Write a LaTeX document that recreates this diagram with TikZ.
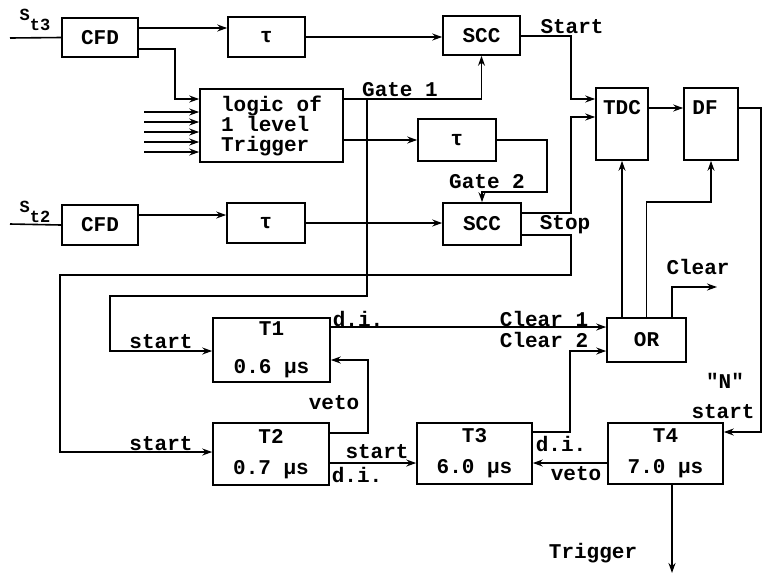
\documentclass[tikz,border=0pt]{standalone}
\usepackage{fontspec}
\setmonofont{Liberation Mono}
\usetikzlibrary{positioning, arrows.meta, calc}
\newcommand{\plotfont}{\ttfamily\bfseries\fontsize{21}{22}\selectfont}
\tikzset{
  block/.style={draw, line width=1.6pt, inner sep=0pt, align=center, font=\plotfont},
  blk/.style 2 args={block, minimum width=#1pt, minimum height=#2pt},
  lbl/.style={font=\plotfont, inner sep=0pt},
  wire/.style={line width=1.6pt},
  arrow/.style={wire, -{Stealth[length=10pt, width=7pt]}},
}

\begin{document}
\begin{tikzpicture}[x=1pt, y=-1pt]
\useasboundingbox (0,0) rectangle (762,574);

%% ====================  DETECTOR St3  ====================

\node[blk={76}{39}] (cfdA) at (100,37.5) {CFD};
\node[blk={77}{40}] (tauA) at (266.5,37) {τ};
\node[blk={77}{39}] (sccA) at (481.5,35.5) {SCC};
\node[blk={143}{73}, align=left, font=\ttfamily\bfseries\fontsize{21}{20}\selectfont]
  (logic) at (271.5,125.5) {logic of\\1 level\\Trigger};
\node[blk={78}{42}] (tauB) at (457,140) {τ};

%% ====================  DETECTOR St2  ====================

\node[blk={76}{40}] (cfdB) at (100,225) {CFD};
\node[blk={78}{40}] (tauC) at (266,223) {τ};
\node[blk={78}{42}] (sccB) at (482,224) {SCC};

%% ====================  TDC / DF / OR  ====================

\node[blk={52}{72}] (tdc) at (622,124) {};
\node[lbl] at ($(tdc.north)+(0,20)$) {TDC};
\node[blk={54}{72}] (df) at (711,124) {};
\node[lbl] at ($(df.north)+(-6,20)$) {DF};
\node[blk={79}{44}] (orgate) at (646.5,340) {OR};

%% ====================  TIMERS  ====================

\node[blk={117}{64}] (t1) at (271.5,350) {T1\\[16pt]0.6 μs};
\node[blk={116}{62}] (t2) at (271,454) {T2\\[9pt]0.7 μs};
\node[blk={115}{61}] (t3) at (474.5,453.5) {T3\\[9pt]6.0 μs};
\node[blk={115}{61}] (t4) at (665.5,453.5) {T4\\[9pt]7.0 μs};

%% free ends
\coordinate (inA) at (10,38);
\coordinate (inB) at (10,224);
\coordinate (clr) at (717,287);
\coordinate (trg) at (672,573);

%% ====================  LABELS  ====================

\node[lbl, font=\ttfamily\bfseries\fontsize{17}{17}\selectfont] at (35,20) {S\raisebox{-10pt}{t3}};
\node[lbl, font=\ttfamily\bfseries\fontsize{17}{17}\selectfont] at (35,212) {S\raisebox{-10pt}{t2}};
\node[lbl] at (572,27) {Start};
\node[lbl] at (400,89.5) {Gate 1};
\node[lbl] at (487,181.5) {Gate 2};
\node[lbl] at (565,225) {Stop};
\node[lbl] at (698,266.5) {Clear};
\node[lbl] at (544,318.5) {Clear 1};
\node[lbl] at (544,340) {Clear 2};
\node[lbl] at (358,319) {d.i.};
\node[lbl] at (161,342) {start};
\node[lbl] at (161,444) {start};
\node[lbl] at (334,403) {veto};
\node[lbl] at (377,452) {start};
\node[lbl] at (357,475) {d.i.};
\node[lbl] at (561,444) {d.i.};
\node[lbl] at (576,474) {veto};
\node[lbl] at (723,412) {start};
\node[lbl] at (725,381) {"N"};
\node[lbl] at (593,553) {Trigger};

%% ====================  ARROWS  ====================

\draw[wire] (inA) -- (cfdA.west);
\draw[arrow] (cfdA.east |- 0,28) -- (tauA.west |- 0,28);
\draw[arrow] (tauA.east) -- (sccA.west |- tauA.east);
\draw[arrow] (cfdA.east |- 0,49) -| (175,99) -- (logic.west |- 0,99);
\foreach \y in {112,122,132,142,152}
  \draw[arrow] ([xshift=-55pt]logic.west |- 0,\y) -- (logic.west |- 0,\y);

%% gate 1
\draw[arrow] (logic.east |- 0,99) -| (sccA.south);
\draw[arrow] (367,99) -- (367,296) -| (110,351) -- (t1.west |- 0,351);

%% gate 2
\draw[arrow] (logic.east |- tauB.west) -- (tauB.west);
\draw[arrow] (tauB.east) -| (547,192) -| (sccB.north);

\draw[wire] (inB) -- (cfdB.west);
\draw[arrow] (cfdB.east |- 0,215) -- (tauC.west |- 0,215);
\draw[arrow] (tauC.east) -- (sccB.west |- tauC.east);

%% start / stop
\draw[arrow] (sccA.east |- 0,36) -| (571,99) -- (tdc.west |- 0,99);
\draw[arrow] (sccB.east |- 0,213) -| (571,117) -- (tdc.west |- 0,117);
\draw[arrow] (sccB.east |- 0,235) -| (571,275) -| (60,452) -- (t2.west |- 0,452);

\draw[arrow] (tdc.east |- 0,108) -- (df.west |- 0,108);
\draw[arrow] (df.east |- 0,108) -| (761,432) -- (t4.east |- 0,432);
\draw[arrow] (tdc.south |- orgate.north) -- (tdc.south);
\draw[arrow] (orgate.north) |- (df.south |- 0,202) -- (df.south);
\draw[arrow] ([xshift=25.5pt]orgate.north) |- (clr);

%% clear
\draw[arrow] (t1.east |- 0,327) -- (orgate.west |- 0,327);
\draw[arrow] (t3.east |- 0,432) -| (570,351) -- (orgate.west |- 0,351);

%% timers
\draw[arrow] (t2.east |- 0,433) -| (368,360) -- (t1.east |- 0,360);
\draw[arrow] (t2.east |- 0,463) -- (t3.west |- 0,463);
\draw[arrow] (t4.west |- 0,463) -- (t3.east |- 0,463);
\draw[arrow] (t4.south -| trg) -- (trg);

\end{tikzpicture}
\end{document}
